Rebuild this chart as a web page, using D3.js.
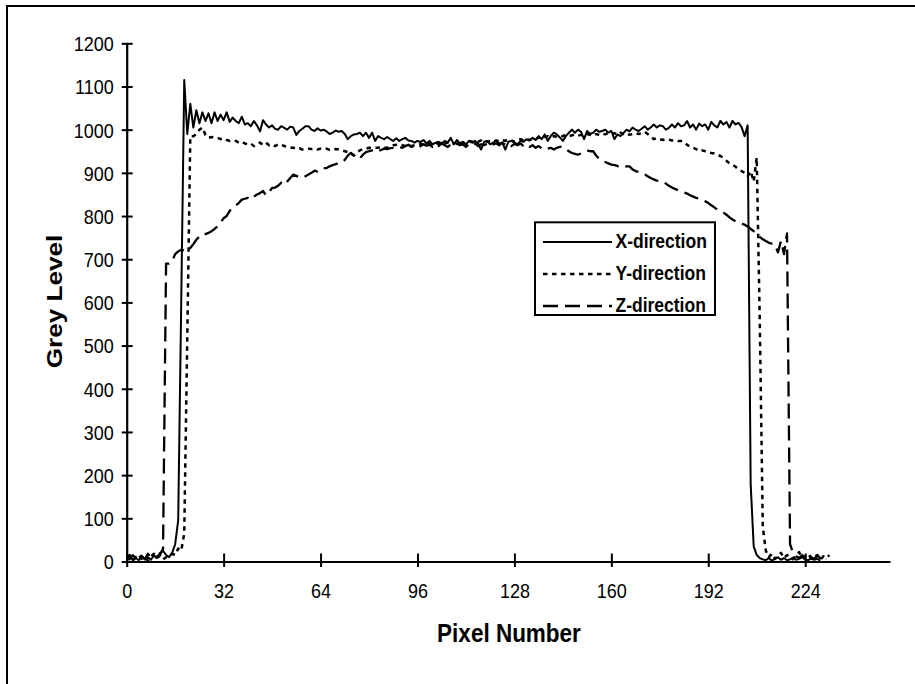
<!DOCTYPE html>
<html>
<head>
<meta charset="utf-8">
<title>Grey Level profiles</title>
<script src="https://cdnjs.cloudflare.com/ajax/libs/d3/7.8.5/d3.min.js"></script>
<style>
body { margin: 0; background: #fff; }
svg text { font-family: "Liberation Sans", Arial, sans-serif; fill: #000; }
</style>
</head>
<body>
<script>

// tick labels
var xTicks = [0, 32, 64, 96, 128, 160, 192, 224];
var yTicks = [0, 100, 200, 300, 400, 500, 600, 700, 800, 900, 1000, 1100, 1200];

var seriesNames = ["X-direction", "Y-direction", "Z-direction"];

// grey level per pixel number (index = pixel number)
var xDirection = [
  10, 5, 15, 8, 3, 12, 6, 10, 4, 14,
  8, 20, 25, 15, 10, 20, 40, 95, 600, 1115,
  990, 1060, 1005, 1045, 1015, 1040, 1020, 1038, 1015, 1040,
  1020, 1035, 1022, 1040, 1018, 1028, 1020, 1015, 1030, 1012,
  1015, 1008, 1020, 1010, 996, 1022, 1012, 1005, 1010, 1002,
  1000, 1008, 1004, 1000, 1007, 1005, 988, 997, 1002, 1008,
  1008, 1000, 997, 1003, 998, 1000, 996, 990, 993, 998,
  995, 997, 990, 978, 985, 989, 990, 993, 985, 993,
  981, 993, 974, 985, 981, 978, 983, 978, 974, 980,
  974, 978, 981, 975, 974, 970, 974, 972, 976, 968,
  974, 966, 970, 972, 968, 974, 970, 981, 966, 976,
  968, 972, 966, 974, 970, 974, 968, 954, 972, 974,
  966, 970, 974, 968, 970, 954, 972, 974, 970, 966,
  974, 972, 978, 975, 981, 976, 985, 978, 989, 974,
  985, 993, 989, 982, 974, 985, 993, 1000, 993, 1000,
  995, 978, 997, 990, 993, 1000, 995, 997, 1000, 993,
  997, 978, 989, 985, 992, 1000, 996, 1005, 1000, 997,
  1002, 1008, 1000, 1005, 1012, 1005, 1010, 1008, 1000, 1004,
  1012, 1005, 1015, 1008, 1010, 1020, 1005, 1012, 1000, 1014,
  1008, 1012, 1000, 1018, 1010, 1005, 1020, 1012, 1018, 1005,
  1020, 1012, 1016, 1006, 985, 1010, 180, 35, 15, 8,
  5, 3, 8, 2, 6, 10, 4, 8, 3, 5,
  9, 4, 6, 10, 5, 3, 7, 4, 6, 2
];

var yDirection = [
  5, 12, 3, 8, 15, 6, 10, 2, 12, 18,
  8, 14, 5, 10, 12, 18, 15, 30, 25, 65,
  520, 985, 985, 990, 1000, 1005, 988, 981, 983, 981,
  981, 978, 980, 976, 974, 975, 974, 970, 972, 968,
  966, 968, 962, 966, 970, 965, 970, 964, 966, 962,
  966, 966, 962, 960, 958, 958, 956, 957, 954, 955,
  956, 955, 956, 954, 956, 955, 956, 953, 954, 955,
  954, 952, 950, 948, 945, 940, 948, 952, 955, 956,
  958, 957, 958, 958, 960, 958, 958, 962, 964, 965,
  966, 964, 962, 963, 962, 964, 966, 968, 965, 966,
  968, 966, 970, 966, 965, 968, 970, 966, 968, 970,
  972, 968, 970, 974, 972, 970, 972, 975, 970, 972,
  974, 972, 975, 973, 976, 974, 978, 975, 972, 976,
  978, 975, 978, 976, 980, 978, 982, 980, 983, 985,
  982, 985, 984, 986, 985, 988, 985, 987, 989, 986,
  988, 986, 990, 988, 986, 990, 988, 991, 989, 992,
  990, 992, 988, 993, 990, 992, 988, 990, 992, 990,
  992, 995, 990, 985, 978, 980, 978, 976, 978, 977,
  975, 976, 974, 974, 972, 965, 960, 958, 955, 950,
  952, 950, 948, 946, 945, 942, 939, 935, 928, 922,
  919, 914, 908, 904, 900, 892, 904, 880, 935, 560,
  80, 25, 10, 18, 6, 12, 20, 8, 15, 10,
  5, 14, 22, 8, 12, 18, 6, 10, 15, 4,
  12, 8, 15
];

var zDirection = [
  8, 15, 4, 10, 20, 12, 5, 18, 10, 6,
  12, 15, 30, 690, 690, 695, 712, 718, 722, 720,
  728, 726, 735, 745, 753, 752, 758, 761, 765, 770,
  776, 785, 795, 800, 812, 818, 825, 830, 838, 840,
  842, 838, 845, 850, 853, 858, 848, 856, 865, 866,
  870, 877, 872, 880, 888, 896, 893, 890, 888, 892,
  896, 900, 905, 903, 908, 911, 911, 915, 918, 920,
  923, 923, 930, 940, 946, 940, 936, 934, 942, 948,
  950, 952, 954, 950, 953, 956, 955, 957, 958, 957,
  960, 958, 962, 965, 960, 963, 958, 962, 966, 963,
  965, 960, 967, 962, 968, 964, 960, 966, 962, 968,
  964, 966, 960, 967, 963, 968, 962, 966, 964, 968,
  962, 966, 968, 964, 970, 965, 968, 962, 967, 964,
  968, 962, 966, 960, 964, 958, 962, 957, 960, 956,
  958, 954, 958, 960, 961, 955, 950, 946, 944, 942,
  945, 948, 952, 950, 950, 940, 932, 927, 925, 922,
  919, 918, 916, 912, 914, 915, 915, 908, 904, 902,
  900, 897, 892, 888, 885, 882, 881, 880, 875, 870,
  866, 863, 860, 857, 855, 852, 848, 845, 842, 840,
  838, 834, 830, 825, 820, 815, 812, 808, 803, 797,
  792, 788, 785, 782, 780, 776, 770, 765, 760, 752,
  746, 742, 738, 736, 734, 716, 742, 712, 760, 40,
  20, 12, 8, 15, 5, 18, 10, 6, 14, 8,
  12, 5
];

var outerWidth = 915;
var outerHeight = 684;
var stretch = 1.16;   // the picture is a bit taller than wide, text too

var graph = d3.select("body").append("svg")
    .attr("width", outerWidth)
    .attr("height", outerHeight);

graph.append("rect")
    .attr("width", outerWidth).attr("height", outerHeight)
    .attr("fill", "#fff");

// chart border (right and bottom edges run off the picture)
graph.append("rect")
    .attr("x", 7).attr("y", 6)
    .attr("width", outerWidth + 20).attr("height", outerHeight + 20)
    .attr("fill", "none").attr("stroke", "#000").attr("stroke-width", 2);

var xScale = d3.scaleLinear().domain([0, 252]).range([126.7, 890]);
var yScale = d3.scaleLinear().domain([0, 1200]).range([561.5, 43.3]);

// y axis
var yAxisGroup = graph.append("g")
    .attr("transform", "translate(" + xScale(0) + ",0)")
    .call(d3.axisLeft(yScale).tickValues(yTicks).tickFormat(d3.format("d"))
      .tickSize(5).tickSizeOuter(0).tickPadding(8));

yAxisGroup.select(".domain").attr("stroke-width", 2.2);
yAxisGroup.selectAll(".tick line").attr("x1", 6).attr("x2", -5).attr("stroke-width", 2);
yAxisGroup.selectAll(".tick text")
    .attr("font-size", 18)
    .attr("dy", "0.355em")
    .attr("transform", "scale(1," + stretch + ")");

// x axis
var xAxisGroup = graph.append("g")
    .attr("transform", "translate(0," + yScale(0) + ")")
    .call(d3.axisBottom(xScale).tickValues(xTicks).tickFormat(d3.format("d")).tickSizeOuter(0));

xAxisGroup.select(".domain").attr("stroke-width", 2.2);
xAxisGroup.selectAll(".tick line").attr("y1", -8).attr("y2", 5.5).attr("stroke-width", 2);
xAxisGroup.selectAll(".tick text")
    .attr("font-size", 18)
    .attr("y", 0).attr("dy", 0)
    .attr("transform", "translate(0,36.5) scale(1," + stretch + ")");

// axis titles
graph.append("g")
    .attr("transform", "translate(509,641.5) scale(1," + stretch + ")")
  .append("text")
    .attr("text-anchor", "middle")
    .attr("font-size", 22.5)
    .attr("font-weight", "bold")
    .text("Pixel Number");

graph.append("g")
    .attr("transform", "translate(61.5,301.5) scale(1," + stretch + ") rotate(-90)")
  .append("text")
    .attr("text-anchor", "middle")
    .attr("font-size", 22.5)
    .attr("font-weight", "bold")
    .text("Grey Level");

// series
var styles = [
  {width: 2, dash: null},
  {width: 2.5, dash: "4.5,4.5"},
  {width: 2.3, dash: "15,7"}
];
var allSeries = [xDirection, yDirection, zDirection];

var line = d3.line()
    .x(function(d, i) { return xScale(i); })
    .y(function(d) { return yScale(d); });

graph.append("g").selectAll("path")
    .data(allSeries)
    .enter().append("path")
    .attr("d", line)
    .attr("fill", "none")
    .attr("stroke", "#000")
    .attr("stroke-linejoin", "round")
    .attr("stroke-width", function(d, i) { return styles[i].width; })
    .attr("stroke-dasharray", function(d, i) { return styles[i].dash; });

// legend
var legend = graph.append("g");
legend.append("rect")
    .attr("x", 535).attr("y", 222.3)
    .attr("width", 180).attr("height", 92.7)
    .attr("fill", "#fff").attr("stroke", "#000").attr("stroke-width", 2);

var legendBaselines = [247.5, 279.5, 311.5];

seriesNames.forEach(function(name, i) {
  legend.append("line")
      .attr("x1", 543).attr("x2", 612)
      .attr("y1", legendBaselines[i] - 5.5).attr("y2", legendBaselines[i] - 5.5)
      .attr("stroke", "#000")
      .attr("stroke-width", styles[i].width)
      .attr("stroke-dasharray", styles[i].dash);
  legend.append("g")
      .attr("transform", "translate(615.5," + legendBaselines[i] + ") scale(1," + stretch + ")")
    .append("text")
      .attr("font-size", 17.5)
      .attr("font-weight", "bold")
      .text(name);
});

</script>
</body>
</html>
